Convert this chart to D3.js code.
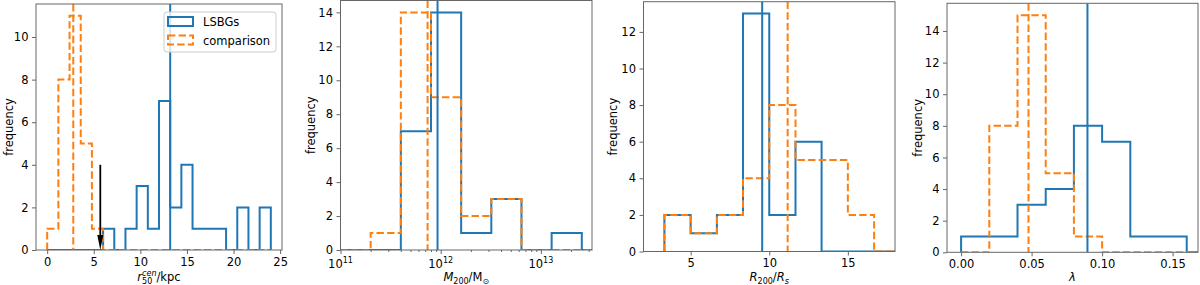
<!DOCTYPE html>
<html>
<head>
<meta charset="utf-8">
<script src="https://cdn.jsdelivr.net/npm/d3@7"></script>
<style>
  body { margin: 0; background: #fff; }
  svg { display: block; font-family: "DejaVu Sans", sans-serif; }
</style>
</head>
<body>
<svg id="chart" width="1200" height="285"></svg>
<script>
// bin edges and counts
var r50Edges = [0, 1.2, 2.4, 3.6, 4.8, 6.0, 7.2, 8.4, 9.6, 10.8, 12.0, 13.2, 14.4, 15.6, 16.8, 18.0, 19.2, 20.4, 21.6, 22.8, 24.0];
var r50LSBG  = [0, 0, 0, 0, 0, 1, 0, 1, 3, 1, 7, 2, 4, 1, 1, 1, 0, 2, 0, 2];
var r50Comp  = [1, 8, 11, 5, 1, 0, 0, 0, 0, 0, 0, 0, 0, 0, 0, 0, 0, 0, 0, 0];

var m200Edges = [1e11, 2e11, 4e11, 8e11, 1.6e12, 3.2e12, 6.4e12, 1.28e13, 2.56e13, 5.12e13];
var m200LSBG  = [0, 0, 7, 14, 1, 3, 0, 1, 0];
var m200Comp  = [0, 1, 14, 9, 2, 3, 0, 0, 0];

var concEdges = [3.33, 5, 6.67, 8.33, 10, 11.67, 13.33, 15, 16.67, 18.33];
var concLSBG  = [2, 1, 2, 13, 2, 6, 0, 0, 0];
var concComp  = [2, 1, 2, 4, 8, 5, 5, 2, 0];

var lamEdges = [0, 0.02, 0.04, 0.06, 0.08, 0.10, 0.12, 0.14, 0.16, 0.18];
var lamLSBG  = [1, 1, 3, 4, 8, 7, 1, 1, 0];
var lamComp  = [0, 8, 15, 5, 1, 0, 0, 0, 0];

// medians (vertical lines), one per panel
var medianLSBG = [13.2, 9.3e11, 9.55, 0.0896];
var medianComp = [2.8, 7.4e11, 11.17, 0.0478];

// arrow in first panel: x, top
var arrowAt = [5.7, 4];

var legendNames = ["LSBGs", "comparison"];

var blue = "#1f77b4", orange = "#ff7f0e", axisCol = "#666";

var panels = [
  { box: [36, 4, 282, 250], x: d3.scaleLinear().domain([-1.2, 25.2]), ymax: 11.55,
    xTicks: [0, 5, 10, 15, 20, 25], yTicks: [0, 2, 4, 6, 8, 10],
    edges: r50Edges, lsbg: r50LSBG, comp: r50Comp, ylab: 9, xlab: "r50" },
  { box: [340.5, 0.5, 592, 250], x: d3.scaleLog().domain([1e11, Math.pow(10, 13.51)]), ymax: 14.7,
    xTicks: [1e11, 1e12, 1e13], yTicks: [0, 2, 4, 6, 8, 10, 12, 14], log: true,
    edges: m200Edges, lsbg: m200LSBG, comp: m200Comp, ylab: 311, xlab: "m200" },
  { box: [643.5, 1.7, 895, 251.5], x: d3.scaleLinear().domain([2, 18]), ymax: 13.65,
    xTicks: [5, 10, 15], yTicks: [0, 2, 4, 6, 8, 10, 12],
    edges: concEdges, lsbg: concLSBG, comp: concComp, ylab: 613, xlab: "conc" },
  { box: [947, 3.3, 1198, 252.3], x: d3.scaleLinear().domain([-0.01, 0.168]), ymax: 15.75,
    xTicks: [0, 0.05, 0.10, 0.15], yTicks: [0, 2, 4, 6, 8, 10, 12, 14], fmt: d3.format(".2f"),
    edges: lamEdges, lsbg: lamLSBG, comp: lamComp, ylab: 918, xlab: "lam" }
];

var svg = d3.select("#chart");

function stepPoints(edges, counts) {
  var pts = [[edges[0], 0]];
  counts.forEach(function(c, i) {
    pts.push([edges[i], c]);
    pts.push([edges[i + 1], c]);
  });
  pts.push([edges[counts.length], 0]);
  return pts;
}

function xLabel(g, kind) {
  var t = g.append("text").attr("text-anchor", "middle").attr("font-size", 11.5).attr("fill", "#000");
  if (kind == "r50") {
    t.append("tspan").attr("font-style", "italic").text("r");
    t.append("tspan").attr("font-size", 8).attr("dy", 3).text("50");
    t.append("tspan").attr("font-size", 8).attr("font-style", "italic").attr("dx", -10.2).attr("dy", -8).text("cen");
    t.append("tspan").attr("dy", 5).text("/kpc");
  } else if (kind == "m200") {
    t.append("tspan").attr("font-style", "italic").text("M");
    t.append("tspan").attr("font-size", 8).attr("dy", 3).text("200");
    t.append("tspan").attr("dy", -3).text("/M");
    t.append("tspan").attr("font-size", 8).attr("dy", 3).text("\u2299");
  } else if (kind == "conc") {
    t.append("tspan").attr("font-style", "italic").text("R");
    t.append("tspan").attr("font-size", 8).attr("dy", 3).text("200");
    t.append("tspan").attr("dy", -3).text("/");
    t.append("tspan").attr("font-style", "italic").text("R");
    t.append("tspan").attr("font-size", 8).attr("font-style", "italic").attr("dy", 3).text("s");
  } else {
    t.append("tspan").attr("font-style", "italic").text("\u03bb");
  }
  return t;
}

panels.forEach(function(p, pi) {
  var L = p.box[0], T = p.box[1], R = p.box[2], B = p.box[3];
  var x = p.x.range([L, R]);
  var y = d3.scaleLinear().domain([0, p.ymax]).range([B, T]);
  var g = svg.append("g");

  var clipId = "clip" + pi;
  svg.append("clipPath").attr("id", clipId)
    .append("rect").attr("x", L).attr("y", T).attr("width", R - L).attr("height", B - T);

  var plot = g.append("g").attr("clip-path", "url(#" + clipId + ")");
  var line = d3.line().x(function(d) { return x(d[0]); }).y(function(d) { return y(d[1]); });

  plot.append("path").attr("d", line(stepPoints(p.edges, p.lsbg)))
    .attr("fill", "none").attr("stroke", blue).attr("stroke-width", 2);
  plot.append("path").attr("d", line(stepPoints(p.edges, p.comp)))
    .attr("fill", "none").attr("stroke", orange).attr("stroke-width", 2)
    .attr("stroke-dasharray", "7.4,3.2");

  plot.append("line").attr("x1", x(medianLSBG[pi])).attr("x2", x(medianLSBG[pi]))
    .attr("y1", T).attr("y2", B).attr("stroke", blue).attr("stroke-width", 2);
  plot.append("line").attr("x1", x(medianComp[pi])).attr("x2", x(medianComp[pi]))
    .attr("y1", T).attr("y2", B).attr("stroke", orange).attr("stroke-width", 2)
    .attr("stroke-dasharray", "7.4,3.2");

  if (pi == 0) {
    var ax = x(arrowAt[0]), ay0 = y(arrowAt[1]), ay1 = y(0);
    plot.append("line").attr("x1", ax).attr("x2", ax).attr("y1", ay0).attr("y2", ay1 - 12)
      .attr("stroke", "#000").attr("stroke-width", 1.8);
    plot.append("path")
      .attr("d", "M" + (ax - 3) + "," + (ay1 - 15) + "L" + (ax + 3) + "," + (ay1 - 15) + "L" + ax + "," + ay1 + "Z")
      .attr("fill", "#000");
  }

  // axes
  var xa = d3.axisBottom(x).tickValues(p.xTicks).tickSize(4).tickPadding(3.5)
    .tickFormat(p.log ? function() { return ""; } : (p.fmt || d3.format("d")));
  var gx = g.append("g").attr("transform", "translate(0," + B + ")").call(xa);
  if (p.log) {
    var minors = [];
    [11, 12, 13].forEach(function(e) {
      for (var k = 2; k < 10; k++) {
        var v = k * Math.pow(10, e);
        if (v <= x.domain()[1]) minors.push(v);
      }
    });
    g.append("g").attr("transform", "translate(0," + B + ")")
      .call(d3.axisBottom(x).tickValues(minors).tickSize(2).tickFormat(function() { return ""; }))
      .call(function(s) { s.select(".domain").remove(); s.selectAll("line").attr("stroke", axisCol); });
    p.xTicks.forEach(function(v) {
      var t = g.append("text").attr("x", x(v)).attr("y", B + 17.5)
        .attr("text-anchor", "middle").attr("font-size", 11.5).attr("fill", "#000");
      t.append("tspan").text("10");
      t.append("tspan").attr("font-size", 8).attr("dy", -5).text(Math.round(Math.log10(v)));
    });
  }
  var gy = g.append("g").attr("transform", "translate(" + L + ",0)")
    .call(d3.axisLeft(y).tickValues(p.yTicks).tickSize(4).tickPadding(3.5).tickFormat(d3.format("d")));
  [gx, gy].forEach(function(s) {
    s.select(".domain").remove();
    s.selectAll("line").attr("stroke", axisCol);
    s.selectAll("text").attr("font-size", 11.5).attr("fill", "#000").attr("font-family", "DejaVu Sans");
  });

  g.append("rect").attr("x", L).attr("y", T).attr("width", R - L).attr("height", B - T)
    .attr("fill", "none").attr("stroke", axisCol).attr("stroke-width", 1);

  g.append("text").attr("transform", "translate(" + p.ylab + "," + ((T + B) / 2) + ") rotate(-90)")
    .attr("text-anchor", "middle").attr("dy", "0.35em").attr("font-size", 11.5).text("frequency");

  xLabel(g, p.xlab).attr("x", (L + R) / 2).attr("y", 281);

  if (pi == 0) {
    var lg = g.append("g");
    lg.append("rect").attr("x", 164).attr("y", 12).attr("width", 112).attr("height", 40).attr("rx", 3)
      .attr("fill", "#fff").attr("fill-opacity", 0.8).attr("stroke", "#ccc");
    legendNames.forEach(function(name, i) {
      var yy = 17 + i * 18.5;
      lg.append("rect").attr("x", 168).attr("y", yy).attr("width", 25).attr("height", 9)
        .attr("fill", "none").attr("stroke", i == 0 ? blue : orange).attr("stroke-width", 2)
        .attr("stroke-dasharray", i == 0 ? null : "7.4,3.2");
      lg.append("text").attr("x", 203).attr("y", yy + 9).attr("font-size", 11.5).text(name);
    });
  }
});
</script>
</body>
</html>
